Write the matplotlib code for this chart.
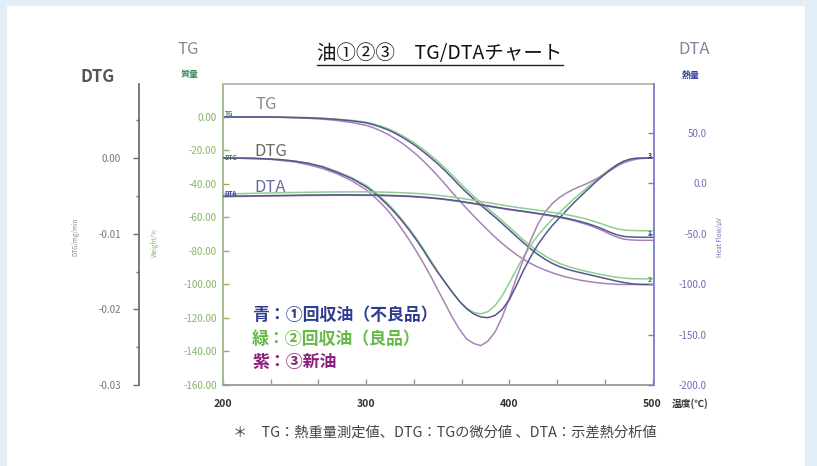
import matplotlib
matplotlib.use("Agg")
import matplotlib.pyplot as plt
from matplotlib.patches import Rectangle
from matplotlib.lines import Line2D
from matplotlib.ticker import FixedLocator, FixedFormatter

plt.rcParams['font.family'] = ['Noto Sans CJK JP', 'DejaVu Sans']

# ---- data -------------------------------------------------------------
temp = [200, 210, 220, 230, 240, 250, 260, 270, 280, 290, 300,
        305, 310, 315, 320, 325, 330, 335, 340, 345, 350,
        355, 360, 365, 370, 375, 380, 385, 390, 395, 400,
        405, 410, 415, 420, 425, 430, 435, 440, 445, 450,
        455, 460, 465, 470, 475, 480, 485, 490, 495, 500]

# TG (weight change, %)
tg_blue = [0, 0, 0, 0, -0.1, -0.3, -0.5, -0.9, -1.5, -2.3, -3.5,
           -4.6, -6.0, -7.6, -9.6, -12.0, -14.6, -17.5, -20.8, -24.3, -28.0,
           -32.0, -36.3, -40.8, -45.0, -48.9, -52.6, -56.2, -59.8, -63.6, -67.5,
           -71.4, -75.2, -78.8, -82.1, -85.0, -87.4, -89.3, -90.8, -92.0, -93.0,
           -94.0, -95.0, -96.0, -97.0, -98.0, -98.8, -99.5, -99.9, -100.0, -100.0]
tg_green = [0, 0, 0, 0, -0.1, -0.2, -0.4, -0.8, -1.3, -2.0, -3.1,
            -4.1, -5.4, -6.9, -8.8, -11.0, -13.5, -16.3, -19.4, -22.8, -26.5,
            -30.4, -34.6, -39.0, -43.3, -47.3, -51.0, -54.6, -58.2, -62.0, -65.8,
            -69.7, -73.5, -77.0, -80.2, -83.0, -85.4, -87.4, -89.0, -90.3, -91.4,
            -92.4, -93.3, -94.2, -95.0, -95.7, -96.2, -96.5, -96.6, -96.6, -96.6]
tg_purple = [0, 0, 0, -0.1, -0.2, -0.5, -0.8, -1.3, -2.1, -3.3, -5.0,
             -6.4, -8.2, -10.3, -12.8, -15.6, -18.8, -22.4, -26.3, -30.6, -35.2,
             -40.0, -45.0, -49.8, -54.5, -59.0, -63.4, -67.6, -71.7, -75.5, -79.0,
             -82.2, -85.0, -87.5, -89.6, -91.4, -93.0, -94.4, -95.6, -96.6, -97.5,
             -98.2, -98.8, -99.3, -99.6, -99.9, -100.0, -100.0, -100.0, -100.0, -100.0]

# DTG (derivative of TG)
dtg_blue = [0, 0, 0, -0.0001, -0.0002, -0.0004, -0.0007, -0.0012, -0.0019, -0.0027, -0.0038,
            -0.0045, -0.0053, -0.0062, -0.0072, -0.0083, -0.0095, -0.0108, -0.0122, -0.0137, -0.0151,
            -0.0164, -0.0177, -0.0189, -0.0199, -0.0206, -0.0210, -0.0211, -0.0208, -0.0200, -0.0187,
            -0.0168, -0.0148, -0.0130, -0.0114, -0.0101, -0.0089, -0.0079, -0.0069, -0.0059, -0.0050,
            -0.0041, -0.0032, -0.0024, -0.0016, -0.0009, -0.0004, -0.0001, 0, 0, 0]
dtg_green = [0, 0, 0, -0.0001, -0.0002, -0.0004, -0.0007, -0.0011, -0.0018, -0.0026, -0.0036,
             -0.0043, -0.0051, -0.0060, -0.0070, -0.0081, -0.0093, -0.0106, -0.0120, -0.0135, -0.0150,
             -0.0164, -0.0177, -0.0189, -0.0198, -0.0204, -0.0206, -0.0203, -0.0195, -0.0182, -0.0165,
             -0.0147, -0.0130, -0.0115, -0.0102, -0.0091, -0.0081, -0.0072, -0.0063, -0.0054, -0.0046,
             -0.0038, -0.0030, -0.0022, -0.0015, -0.0009, -0.0004, -0.0001, 0, 0, 0]
dtg_purple = [0, 0, -0.0001, -0.0001, -0.0003, -0.0005, -0.0009, -0.0014, -0.0021, -0.0030, -0.0042,
              -0.0050, -0.0059, -0.0069, -0.0081, -0.0094, -0.0108, -0.0123, -0.0139, -0.0156, -0.0174,
              -0.0192, -0.0210, -0.0226, -0.0239, -0.0245, -0.0248, -0.0242, -0.0230, -0.0210, -0.0185,
              -0.0158, -0.0133, -0.0108, -0.0087, -0.0071, -0.0060, -0.0052, -0.0046, -0.0041, -0.0037,
              -0.0033, -0.0028, -0.0023, -0.0017, -0.0011, -0.0006, -0.0003, -0.0001, 0, 0]

# DTA (heat flow, uV)
dta_blue = [-12.8, -12.6, -12.4, -12.2, -12.0, -11.8, -11.6, -11.5, -11.4, -11.4, -11.5,
            -11.6, -11.7, -11.9, -12.1, -12.4, -12.7, -13.1, -13.6, -14.2, -14.9,
            -15.7, -16.6, -17.6, -18.7, -19.8, -21.0, -22.2, -23.4, -24.6, -25.7,
            -26.7, -27.7, -28.7, -29.8, -30.9, -32.0, -33.2, -34.6, -36.2, -38.0,
            -40.0, -42.4, -45.2, -48.3, -51.0, -52.6, -53.2, -53.4, -53.5, -53.5]
dta_green = [-10.5, -10.2, -9.9, -9.6, -9.3, -9.0, -8.8, -8.6, -8.5, -8.4, -8.4,
             -8.5, -8.6, -8.8, -9.0, -9.3, -9.6, -10.0, -10.5, -11.1, -11.8,
             -12.6, -13.5, -14.5, -15.6, -16.7, -17.9, -19.1, -20.3, -21.5, -22.6,
             -23.7, -24.7, -25.7, -26.7, -27.7, -28.8, -29.9, -31.1, -32.5, -34.1,
             -35.9, -38.0, -40.4, -42.9, -45.0, -46.2, -46.7, -46.9, -47.0, -47.0]
dta_purple = [-13.2, -13.0, -12.8, -12.6, -12.4, -12.2, -12.0, -11.9, -11.8, -11.8, -11.9,
              -12.0, -12.1, -12.3, -12.5, -12.8, -13.1, -13.5, -14.0, -14.6, -15.3,
              -16.1, -17.0, -18.0, -19.1, -20.2, -21.4, -22.6, -23.8, -25.0, -26.1,
              -27.1, -28.1, -29.1, -30.2, -31.3, -32.5, -33.8, -35.3, -37.0, -39.0,
              -41.2, -43.8, -46.8, -50.2, -53.3, -55.3, -56.1, -56.4, -56.5, -56.5]

x_ticks = [200, 233.33, 266.67, 300, 333.33, 366.67, 400, 433.33, 466.67, 500]
x_tick_labels = ['200', '', '', '300', '', '', '400', '', '', '500']
tg_ticks = [0, -20, -40, -60, -80, -100, -120, -140, -160]
dtg_ticks = [0.0, -0.01, -0.02, -0.03]
dtg_minor = [0.005, -0.005, -0.015, -0.025]
dta_ticks = [50, 0, -50, -100, -150, -200]

legend_lines = ['青：①回収油（不良品）', '緑：②回収油（良品）', '紫：③新油']

# ---- colours ----------------------------------------------------------
c_blue = '#56568f'
c_green = '#8fcf8f'
c_purple = '#a982b8'
tg_col = '#86b468'
dta_col = '#6c70b8'

# ---- figure -----------------------------------------------------------
W, H = 817, 466
fig = plt.figure(figsize=(W / 100, H / 100), dpi=100, facecolor='#e3eef8')
panel = Rectangle((7 / W, 0), 798 / W, 460 / H, transform=fig.transFigure,
                  facecolor='white', edgecolor='none', zorder=-10)
fig.add_artist(panel)


def ftext(x, y, s, **kw):
    kw.setdefault('ha', 'center')
    kw.setdefault('va', 'center')
    return fig.text(x / W, 1 - y / H, s, **kw)


ax = fig.add_axes([223 / W, 1 - 385 / H, 431 / W, 301 / H])
ax.set_facecolor('none')
ax.set_xlim(200, 501)
ax.set_ylim(-160, 19.7)

ax_dtg = ax.twinx()
ax_dtg.set_ylim(-0.03, 0.0098)
ax_dta = ax.twinx()
ax_dta.set_ylim(-200, 98.6)

lw = 1.1
for a, series in ((ax_dta, (dta_green, dta_purple, dta_blue)),
                  (ax_dtg, (dtg_green, dtg_purple, dtg_blue)),
                  (ax, (tg_green, tg_purple, tg_blue))):
    for vals, col in zip(series, (c_green, c_purple, c_blue)):
        a.plot(temp, vals, color=col, lw=lw, solid_capstyle='round')

# spines
ax.spines['right'].set_visible(False)
ax.spines['top'].set_color('#b4b4b4')
ax.spines['bottom'].set_color('#9a9a9a')
ax.spines['left'].set_color('#9bb98a')
for sp in ax.spines.values():
    sp.set_linewidth(1.3)

for s in ('top', 'bottom', 'right'):
    ax_dtg.spines[s].set_visible(False)
ax_dtg.spines['left'].set_visible(True)
ax_dtg.spines['left'].set_position(('axes', -84 / 431))
ax_dtg.spines['left'].set_color('#6f6f6f')
ax_dtg.spines['left'].set_linewidth(1.3)

for s in ('top', 'bottom', 'left'):
    ax_dta.spines[s].set_visible(False)
ax_dta.spines['right'].set_color('#7c7cc8')
ax_dta.spines['right'].set_linewidth(1.3)

# x axis
ax.xaxis.set_major_locator(FixedLocator(x_ticks))
ax.xaxis.set_major_formatter(FixedFormatter(x_tick_labels))
ax.tick_params(axis='x', direction='in', length=4, width=1, color='#9a9a9a',
               labelsize=7.5, labelcolor='#333333', pad=10)
for t in ax.get_xticklabels():
    t.set_fontweight('bold')

# TG axis
ax.yaxis.set_major_locator(FixedLocator(tg_ticks))
ax.yaxis.set_major_formatter(FixedFormatter(['%.2f' % v for v in tg_ticks]))
ax.tick_params(axis='y', direction='in', length=4, width=1, color=tg_col,
               labelsize=7, labelcolor=tg_col, pad=4.5)

# DTG axis
ax_dtg.yaxis.set_ticks_position('left')
ax_dtg.yaxis.set_label_position('left')
ax_dtg.yaxis.set_major_locator(FixedLocator(dtg_ticks))
ax_dtg.yaxis.set_major_formatter(FixedFormatter(['%.2f' % v for v in dtg_ticks]))
ax_dtg.yaxis.set_minor_locator(FixedLocator(dtg_minor))
ax_dtg.tick_params(axis='y', which='major', direction='out', length=4, width=1,
                   color='#6f6f6f', labelsize=7, labelcolor='#777777', pad=9,
                   left=True, right=False, labelleft=True, labelright=False)
ax_dtg.tick_params(axis='y', which='minor', direction='out', length=2.5, width=1,
                   color='#6f6f6f', left=True, right=False)

# DTA axis
ax_dta.yaxis.set_major_locator(FixedLocator(dta_ticks))
ax_dta.yaxis.set_major_formatter(FixedFormatter(['%.1f' % v for v in dta_ticks]))
ax_dta.tick_params(axis='y', direction='in', length=4, width=1, color='#7c7cc8',
                   labelsize=7, labelcolor=dta_col, pad=38)
for t in ax_dta.get_yticklabels():
    t.set_ha('right')

# axis headings
ftext(188, 50, 'TG', fontsize=12, color='#8a8a8a')
ftext(190, 75, '質量', fontsize=6.5, color='#3c8a5c', fontweight='bold')
ftext(98, 77, 'DTG', fontsize=12, color='#555555', fontweight='bold')
ftext(694, 50, 'DTA', fontsize=12, color='#7d8599')
ftext(691, 75, '熱量', fontsize=6.5, color='#2e3a9a', fontweight='bold')
ftext(75, 237, 'DTG/mg/min', fontsize=4.5, color='#888888', rotation=90)
ftext(155, 243, 'Weight/%', fontsize=4.5, color=tg_col, rotation=90)
ftext(720, 237, 'Heat Flow/μV', fontsize=4.5, color=dta_col, rotation=90)
ftext(690, 404, '温度(℃)', fontsize=7, color='#333333', fontweight='bold')

# in-plot curve names
ftext(255, 104, 'TG', fontsize=12, color='#8a8a8a', ha='left')
ftext(254, 151, 'DTG', fontsize=12, color='#6a6a6a', ha='left')
ftext(254, 188, 'DTA', fontsize=12, color='#6a6f9a', ha='left')
ftext(225, 113, 'TG', fontsize=4.5, color='#3f7f4f', ha='left', fontweight='bold')
ftext(224, 157, 'DTG', fontsize=4.5, color='#3f7f4f', ha='left', fontweight='bold')
ftext(224, 193, 'DTA', fontsize=4.5, color='#3a3aa0', ha='left', fontweight='bold')
ftext(650, 155, '3', fontsize=5, color='#333333', fontweight='bold')
ftext(650, 233, '1', fontsize=5, color='#3a3aa0', fontweight='bold')
ftext(650, 279, '2', fontsize=5, color='#3f7f4f', fontweight='bold')

# sample legend
for i, (s, col) in enumerate(zip(legend_lines, ('#2f3c92', '#66b847', '#8a1f7c'))):
    ftext(252, 315 + i * 23.5, s, fontsize=12.2, color=col, ha='left', fontweight='bold')

# title and footnote
title = ftext(440, 53, '油①②③　TG/DTAチャート', fontsize=14, color='#111111')
ftext(233, 433, '＊　TG：熱重量測定値、DTG：TGの微分値 、DTA：示差熱分析値',
      fontsize=10.3, color='#444444', ha='left')

fig.canvas.draw()
bb = title.get_window_extent()
fig.add_artist(Line2D([bb.x0 / W, bb.x1 / W], [(bb.y0 - 1) / H, (bb.y0 - 1) / H],
                      transform=fig.transFigure, color='#222222', lw=1.0))

fig.savefig('out.png', dpi=100, facecolor=fig.get_facecolor())
